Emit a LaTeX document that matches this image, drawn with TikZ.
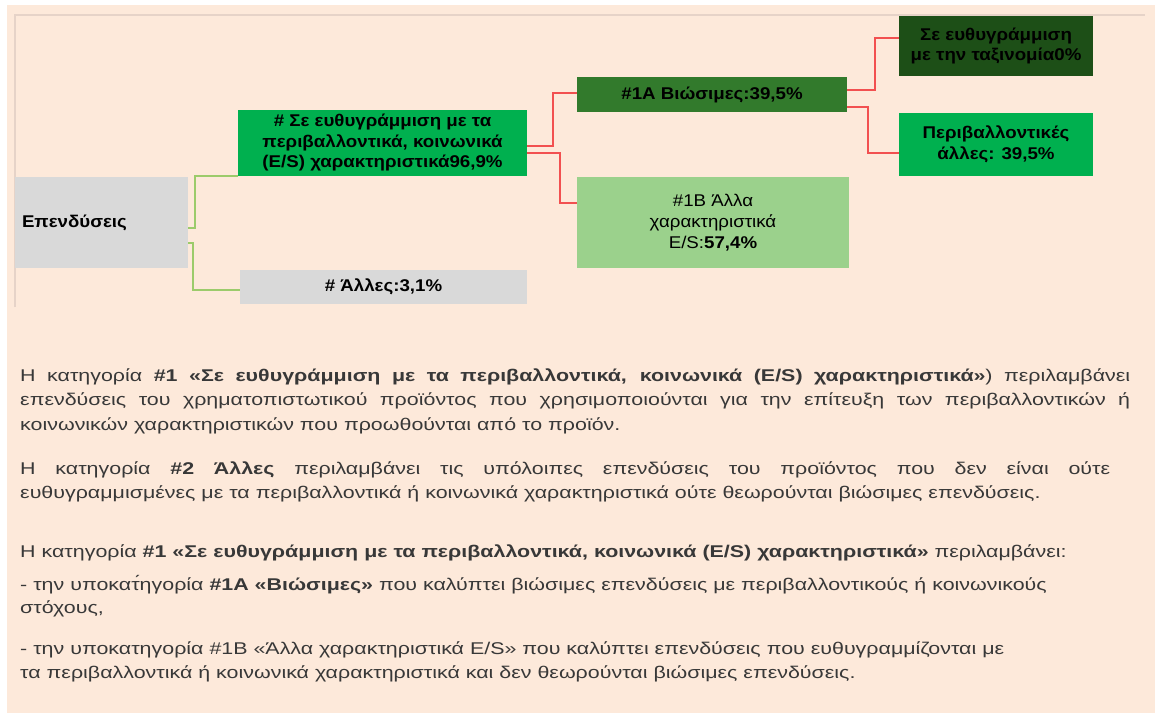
\documentclass[tikz,border=0pt]{standalone}
\usepackage{fontspec}
\setmainfont{Liberation Sans}[FakeStretch=1.26]
\newfontfamily\boxfont{Liberation Sans}[FakeStretch=1.1]
\definecolor{peach}{HTML}{FDE9DA}
\definecolor{framegray}{HTML}{E6D3C8}
\definecolor{boxgray}{HTML}{D9D9D9}
\definecolor{brightgreen}{HTML}{00B04F}
\definecolor{midgreen}{HTML}{327A2C}
\definecolor{darkgreen}{HTML}{1D4F17}
\definecolor{palegreen}{HTML}{9BD18C}
\definecolor{linered}{HTML}{F25050}
\definecolor{linegreen}{HTML}{9CCB6B}
\definecolor{textgray}{HTML}{383838}

\begin{document}
\begin{tikzpicture}[x=1pt,y=-1pt,
box/.style={inner sep=2pt,align=center,font=\boxfont\fontsize{17}{20.5}\selectfont\bfseries},
rline/.style={draw=linered,line width=2.2pt},
gline/.style={draw=linegreen,line width=2.2pt},
txt/.style={anchor=base west,inner sep=0pt,text=textgray,font=\fontsize{17}{24}\selectfont}]
\useasboundingbox (0,0) rectangle (1159,717);
\fill[peach] (7,5) rectangle (1155,713);
\draw[framegray,line width=1.5pt] (15,307) -- (15,15) -- (1145,15);

\node[box,fill=boxgray,minimum height=91pt,text width=159pt,inner xsep=7pt,align=left] (inv) at (101.5,222.5) {Επενδύσεις};
\node[box,fill=brightgreen,minimum width=289pt,minimum height=66pt] (align) at (382.5,143) {\# Σε ευθυγράμμιση με τα\\περιβαλλοντικά, κοινωνικά\\(E/S) χαρακτηριστικά96,9\%};
\node[box,fill=boxgray,minimum width=287pt,minimum height=34pt] (other) at (383.5,287) {\# Άλλες:3,1\%};
\node[box,fill=midgreen,minimum width=270pt,minimum height=35pt] (sust) at (712,94.5) {\#1A Βιώσιμες:39,5\%};
\node[box,fill=palegreen,minimum width=272pt,minimum height=91pt,font=\boxfont\fontsize{17}{21}\selectfont] (nonsust) at (713,222.5) {\#1B Άλλα\\χαρακτηριστικά\\E/S:\textbf{57,4\%}};
\node[box,fill=darkgreen,minimum width=194pt,minimum height=60pt] (taxo) at (996,46) {Σε ευθυγράμμιση\\με την ταξινομία0\%};
\node[box,fill=brightgreen,minimum width=194pt,minimum height=63pt] (env) at (996,144.5) {Περιβαλλοντικές\\άλλες: 39,5\%};

\draw[gline] ([yshift=-5.5pt]inv.east) -- ++(7,0) |- (align.south west);
\draw[gline] ([yshift=-20.5pt]inv.east) -- ++(5,0) |- ([yshift=-3pt]other.west);
\draw[rline] ([yshift=-3pt]align.east) -- ++(26,0) |- ([yshift=1.5pt]sust.west);
\draw[rline] ([yshift=-10pt]align.east) -- ++(33,0) |- ([yshift=19.5pt]nonsust.west);
\draw[rline] ([yshift=4.5pt]sust.east) -- ++(28,0) |- ([yshift=8pt]taxo.west);
\draw[rline] ([yshift=-12.5pt]sust.east) -- ++(21,0) |- ([yshift=-8.5pt]env.west);

\node[txt] (p1a) at (20,381) {\makebox[1110pt][s]{Η κατηγορία \textbf{\#1 «Σε ευθυγράμμιση με τα περιβαλλοντικά, κοινωνικά (E/S) χαρακτηριστικά»}) περιλαμβάνει}};
\node[txt] (p1b) at (20,405.5) {\makebox[1110pt][s]{επενδύσεις του χρηματοπιστωτικού προϊόντος που χρησιμοποιούνται για την επίτευξη των περιβαλλοντικών ή}};
\node[txt] (p1c) at (20,430) {κοινωνικών χαρακτηριστικών που προωθούνται από το προϊόν.};
\node[txt] (p2a) at (20,474) {\makebox[1090pt][s]{Η κατηγορία \textbf{\#2 Άλλες} περιλαμβάνει τις υπόλοιπες επενδύσεις του προϊόντος που δεν είναι ούτε}};
\node[txt] (p2b) at (20,498) {ευθυγραμμισμένες με τα περιβαλλοντικά ή κοινωνικά χαρακτηριστικά ούτε θεωρούνται βιώσιμες επενδύσεις.};
\node[txt] (p3a) at (20,557) {Η κατηγορία \textbf{\#1 «Σε ευθυγράμμιση με τα περιβαλλοντικά, κοινωνικά (E/S) χαρακτηριστικά»} περιλαμβάνει:};
\node[txt] (p3b) at (20,590) {- την υποκατ́ηγορία \textbf{\#1Α «Βιώσιμες»} που καλύπτει βιώσιμες επενδύσεις με περιβαλλοντικούς ή κοινωνικούς};
\node[txt] (p3c) at (20,613) {στόχους,};
\node[txt] (p3d) at (20,654) {- την υποκατηγορία \#1Β «Άλλα χαρακτηριστικά E/S» που καλύπτει επενδύσεις που ευθυγραμμίζονται με};
\node[txt] (p3e) at (20,678) {τα περιβαλλοντικά ή κοινωνικά χαρακτηριστικά και δεν θεωρούνται βιώσιμες επενδύσεις.};
\end{tikzpicture}
\end{document}
